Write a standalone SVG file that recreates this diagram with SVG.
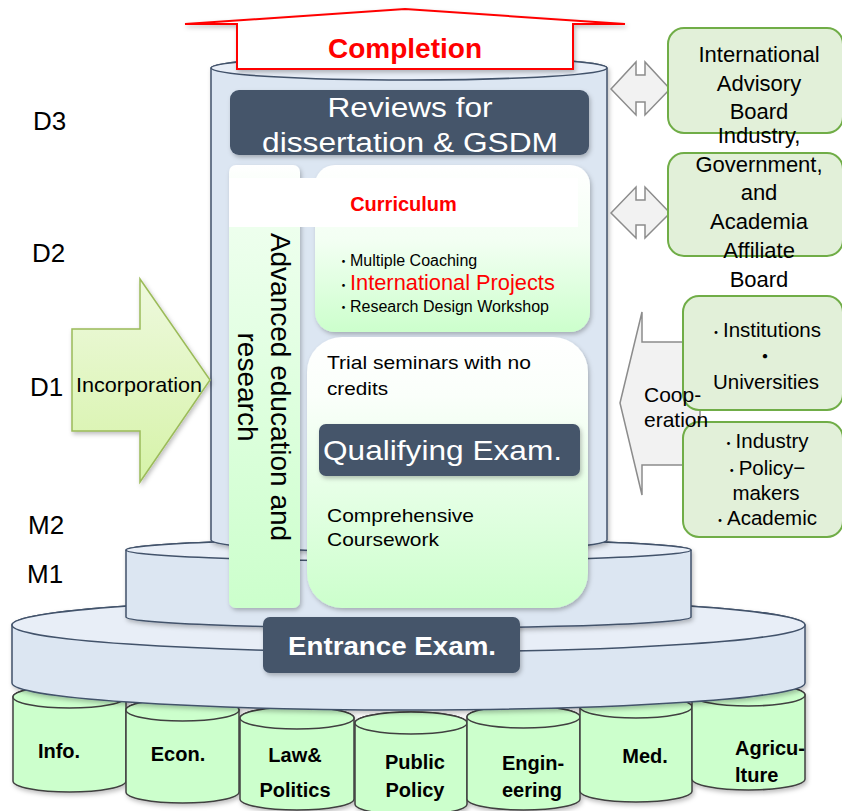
<svg xmlns="http://www.w3.org/2000/svg" width="842" height="811" viewBox="0 0 842 811">
<defs>
<style>
text{font-family:"Liberation Sans","Noto Sans CJK JP",sans-serif;}
.dk{fill:#44546a;}
.cyl{fill:#dce6f2;stroke:#42526b;stroke-width:1.5;}
.cylTop{fill:#e8eef7;stroke:#42526b;stroke-width:1.5;}
.fac{fill:#ccffcc;stroke:#404040;stroke-width:1.5;}
.facT{font-weight:bold;font-size:20px;fill:#000;text-anchor:middle;}
.facS{font-weight:bold;font-size:20px;fill:#000;}
.board{fill:#e2f0d9;stroke:#70ad47;stroke-width:2;}
.bt{font-size:22px;text-anchor:middle;fill:#000;}
.bt2{font-size:20.5px;text-anchor:middle;fill:#000;}
.dot{font-size:14px;}
.garr{fill:#f2f2f2;stroke:#8c8c8c;stroke-width:1.5;}
.lvl{font-size:26px;fill:#000;}
.wtxt{fill:#fff;}
.btxt{fill:#000;}
</style>
<linearGradient id="gCur" x1="0" y1="0" x2="0" y2="1">
<stop offset="0" stop-color="#ffffff"/><stop offset="0.45" stop-color="#f3fff3"/><stop offset="1" stop-color="#ccffcc"/>
</linearGradient>
<linearGradient id="gLow" x1="0" y1="0" x2="0" y2="1">
<stop offset="0" stop-color="#ffffff"/><stop offset="0.22" stop-color="#fafffa"/><stop offset="1" stop-color="#ccffcc"/>
</linearGradient>
<linearGradient id="gAdv" x1="0" y1="0" x2="0" y2="1">
<stop offset="0" stop-color="#ffffff"/><stop offset="0.12" stop-color="#eeffee"/><stop offset="1" stop-color="#ccffcc"/>
</linearGradient>
<linearGradient id="gInc" x1="0" y1="0" x2="0" y2="1">
<stop offset="0" stop-color="#eef9de"/><stop offset="1" stop-color="#d6f3a8"/>
</linearGradient>
<filter id="sh" x="-10%" y="-10%" width="125%" height="130%">
<feDropShadow dx="1.5" dy="2.5" stdDeviation="2" flood-color="#000" flood-opacity="0.25"/>
</filter>
</defs>

<rect width="842" height="811" fill="#fff"/>

<g id="levels">
<text class="lvl" x="33" y="130">D3</text>
<text class="lvl" x="32" y="262">D2</text>
<text class="lvl" x="30" y="396">D1</text>
<text class="lvl" x="28" y="534">M2</text>
<text class="lvl" x="27" y="583">M1</text>
</g>

<g id="faculties" filter="url(#sh)">
<g id="fac-info">
<path class="fac" d="M13,697 V781 A56.5,11 0 0 0 126,781 V697 A56.5,11 0 0 0 13,697 Z"/>
<ellipse class="fac" cx="69.5" cy="697" rx="56.5" ry="11"/>
</g>
<g id="fac-econ">
<path class="fac" d="M126,710 V792 A56.5,11 0 0 0 239,792 V710 A56.5,11 0 0 0 126,710 Z"/>
<ellipse class="fac" cx="182.5" cy="710" rx="56.5" ry="11"/>
</g>
<g id="fac-law">
<path class="fac" d="M240,718 V799 A57,11 0 0 0 354,799 V718 A57,11 0 0 0 240,718 Z"/>
<ellipse class="fac" cx="297" cy="718" rx="57" ry="11"/>
</g>
<g id="fac-public">
<path class="fac" d="M355,723 V804 A56,11 0 0 0 467,804 V723 A56,11 0 0 0 355,723 Z"/>
<ellipse class="fac" cx="411" cy="723" rx="56" ry="11"/>
</g>
<g id="fac-eng">
<path class="fac" d="M467,717 V799 A56.5,11 0 0 0 580,799 V717 A56.5,11 0 0 0 467,717 Z"/>
<ellipse class="fac" cx="523.5" cy="717" rx="56.5" ry="11"/>
</g>
<g id="fac-med">
<path class="fac" d="M580,707 V791 A56,11 0 0 0 692,791 V707 A56,11 0 0 0 580,707 Z"/>
<ellipse class="fac" cx="636" cy="707" rx="56" ry="11"/>
</g>
<g id="fac-agri">
<path class="fac" d="M692,695 V779 A56.5,11 0 0 0 805,779 V695 A56.5,11 0 0 0 692,695 Z"/>
<ellipse class="fac" cx="748.5" cy="695" rx="56.5" ry="11"/>
</g>
</g>
<g id="faculty-labels">
<text class="facT" x="59" y="758">Info.</text>
<text class="facT" x="178" y="761">Econ.</text>
<text class="facT" x="295" y="762">Law&amp;</text>
<text class="facT" x="295" y="797">Politics</text>
<text class="facT" x="415" y="769">Public</text>
<text class="facT" x="415" y="797">Policy</text>
<text class="facS" x="502" y="770">Engin-</text>
<text class="facS" x="502" y="797">eering</text>
<text class="facT" x="645" y="763">Med.</text>
<text class="facS" x="735" y="755">Agricu-</text>
<text class="facS" x="735" y="782">lture</text>
</g>

<g id="base-disc" filter="url(#sh)">
<path class="cyl" d="M12,625 V683 A396.5,27 0 0 0 805,683 V625 A396.5,27 0 0 0 12,625 Z"/>
<ellipse class="cylTop" cx="408.5" cy="625" rx="396.5" ry="27"/>
</g>

<g id="m1-disc" filter="url(#sh)">
<path class="cyl" d="M126,550 V617 A282.5,11 0 0 0 691,617 V550 A282.5,11 0 0 0 126,550 Z"/>
<ellipse class="cylTop" cx="408.5" cy="550" rx="282.5" ry="11"/>
</g>

<g id="main-cylinder" filter="url(#sh)">
<path class="cyl" d="M211,68 V540 A198,12 0 0 0 607,540 V68 A198,12 0 0 0 211,68 Z"/>
<ellipse class="cylTop" cx="409" cy="68" rx="198" ry="12"/>
</g>

<g id="entrance-exam">
<rect class="dk" x="263" y="617" width="257" height="56" rx="7" filter="url(#sh)"/>
<text class="wtxt" x="392" y="655" font-size="26" font-weight="bold" text-anchor="middle" textLength="208" lengthAdjust="spacingAndGlyphs">Entrance Exam.</text>
</g>

<g id="completion">
<polygon points="185,24 405,9 625,24 573,24 573,69 237,69 237,24" fill="#fff" stroke="#ff0000" stroke-width="2" filter="url(#sh)"/>
<text x="405" y="58" font-size="28" font-weight="bold" fill="#ff0000" text-anchor="middle">Completion</text>
</g>

<g id="reviews">
<rect class="dk" x="230" y="90" width="359" height="65" rx="9" filter="url(#sh)"/>
<text class="wtxt" x="410" y="117" font-size="27" text-anchor="middle" textLength="165" lengthAdjust="spacingAndGlyphs">Reviews for</text>
<text class="wtxt" x="410" y="152" font-size="27" text-anchor="middle" textLength="296" lengthAdjust="spacingAndGlyphs">dissertation &amp; GSDM</text>
</g>

<g id="advanced">
<rect x="229" y="165" width="71" height="443" rx="7" fill="url(#gAdv)" filter="url(#sh)"/>
</g>

<g id="curriculum">
<rect x="315" y="165" width="275" height="167" rx="20" fill="url(#gCur)" filter="url(#sh)"/>
<rect x="229" y="178" width="349" height="49" fill="#fff"/>
<text x="403.5" y="211" font-size="20" font-weight="bold" fill="#ff0000" text-anchor="middle">Curriculum</text>
<text class="btxt" x="337" y="266" font-size="16"><tspan font-size="13">・</tspan>Multiple Coaching</text>
<text class="btxt" x="337" y="290" font-size="16"><tspan font-size="13">・</tspan><tspan fill="#ff0000" font-size="21.8">International Projects</tspan></text>
<text class="btxt" x="337" y="312" font-size="16"><tspan font-size="13">・</tspan>Research Design Workshop</text>
</g>

<g id="advanced-label">
<text class="btxt" transform="translate(271,387) rotate(90)" font-size="28" text-anchor="middle">Advanced education and<tspan x="0" dy="33">research</tspan></text>
</g>

<g id="coursework">
<rect x="307" y="337" width="281" height="271" rx="35" fill="url(#gLow)" filter="url(#sh)"/>
<text class="btxt" x="327" y="369" font-size="19" textLength="204" lengthAdjust="spacingAndGlyphs">Trial seminars with no</text>
<text class="btxt" x="327" y="395" font-size="19" textLength="61" lengthAdjust="spacingAndGlyphs">credits</text>
<text class="btxt" x="327" y="522" font-size="19" textLength="147" lengthAdjust="spacingAndGlyphs">Comprehensive</text>
<text class="btxt" x="327" y="546" font-size="19" textLength="112" lengthAdjust="spacingAndGlyphs">Coursework</text>
</g>

<g id="qualifying">
<rect class="dk" x="319" y="424" width="261" height="52" rx="7" filter="url(#sh)"/>
<text class="wtxt" x="323" y="460" font-size="28" textLength="239" lengthAdjust="spacingAndGlyphs">Qualifying Exam.</text>
</g>

<g id="connectors">
<polygon id="incorporation" points="72,329 140,329 140,279 210,380 140,482 140,431 72,431" fill="url(#gInc)" stroke="#9bbb59" stroke-width="1.5" filter="url(#sh)"/>
<path id="arrow-iab" class="garr" d="M611,89 L636,62 L636,75 L645,75 L645,62 L670,89 L645,115 L645,102 L636,102 L636,115 Z"/>
<path id="arrow-igaab" class="garr" d="M611,213 L636,187 L636,200 L645,200 L645,187 L670,213 L645,238 L645,225 L636,225 L636,238 Z"/>
<path id="arrow-coop" class="garr" d="M620,403 L642,312 L642,342 L700,342 L700,465 L642,465 L642,495 Z"/>
</g>
<text class="btxt" x="76" y="392" font-size="21" textLength="126" lengthAdjust="spacingAndGlyphs">Incorporation</text>

<g id="board-iab">
<rect class="board" x="668" y="28" width="175" height="105" rx="16"/>
<text class="bt" x="759" y="62">International</text>
<text class="bt" x="759" y="91">Advisory</text>
<text class="bt" x="759" y="119">Board</text>
</g>

<g id="board-igaab">
<rect class="board" x="668" y="153" width="175" height="103" rx="16"/>
<text class="bt" x="759" y="143">Industry,</text>
<text class="bt" x="759" y="172">Government,</text>
<text class="bt" x="759" y="200">and</text>
<text class="bt" x="759" y="229">Academia</text>
<text class="bt" x="759" y="258">Affiliate</text>
<text class="bt" x="759" y="287">Board</text>
</g>

<g id="board-universities">
<rect class="board" x="683" y="296" width="160" height="114" rx="16"/>
<text class="bt2" x="765" y="337"><tspan class="dot">・</tspan>Institutions</text>
<text class="bt2" x="765" y="364">・</text>
<text class="bt2" x="766" y="389">Universities</text>
</g>

<g id="board-industry">
<rect class="board" x="683" y="422" width="160" height="115" rx="16"/>
<text class="bt2" x="765" y="448"><tspan class="dot">・</tspan>Industry</text>
<text class="bt2" x="765" y="475"><tspan class="dot">・</tspan>Policy−</text>
<text class="bt2" x="766" y="500">makers</text>
<text class="bt2" x="765" y="525"><tspan class="dot">・</tspan>Academic</text>
</g>

<text class="btxt" x="644" y="402" font-size="21">Coop-</text>
<text class="btxt" x="644" y="427" font-size="21">eration</text>
</svg>
